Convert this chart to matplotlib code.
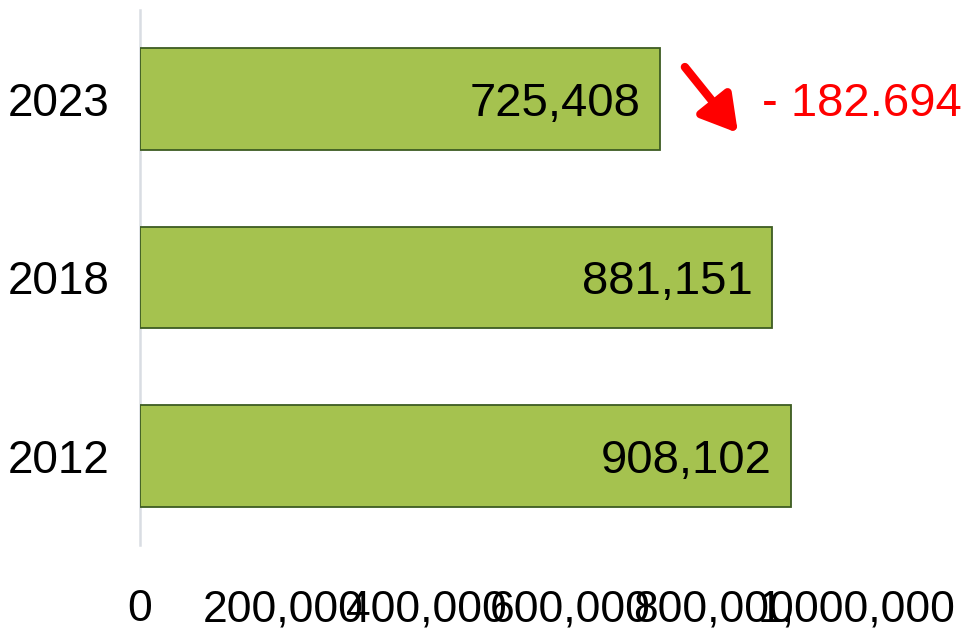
import matplotlib.pyplot as plt
from matplotlib.ticker import FuncFormatter

# values
years = ["2012", "2018", "2023"]
visitors = [908102, 881151, 725408]
change_label = "- 182.694"
x_ticks = [0, 200000, 400000, 600000, 800000, 1000000]

plt.rcParams['font.family'] = ['Liberation Sans', 'DejaVu Sans']

fig = plt.figure(figsize=(9.68, 6.31), dpi=100)
ax = fig.add_axes([0.1446, 0.1363, 0.7407, 0.8479])

pos = list(range(len(years)))
ax.barh(pos, visitors, height=0.57, color='#A5C24F',
        edgecolor='#3D5C22', linewidth=1.3, zorder=3)

# value labels inside the bar ends
for p, v in zip(pos, visitors):
    ax.annotate(f"{v:,}", xy=(v, p), xytext=(-14, 0), textcoords='offset points',
                ha='right', va='center_baseline', fontsize=34)

ax.set_xlim(0, 1000000)
ax.set_ylim(-0.5, 2.5)
ax.set_yticks(pos)
ax.set_yticklabels(years)
ax.set_xticks(x_ticks)
ax.xaxis.set_major_formatter(FuncFormatter(lambda x, _: f"{int(x):,}"))
ax.tick_params(axis='x', length=0, pad=32, labelsize=32)
ax.tick_params(axis='y', length=0, pad=22, labelsize=33)

for s in ['top', 'right', 'bottom']:
    ax.spines[s].set_visible(False)
ax.spines['left'].set_color('#D9DDE3')
ax.spines['left'].set_linewidth(1.8)

# red decrease arrow + label
ax.annotate("", xy=(834000, 1.81), xytext=(760000, 2.18),
            arrowprops=dict(arrowstyle='-|>,head_length=0.6,head_width=0.35',
                            color='red', lw=6, mutation_scale=36, shrinkA=0, shrinkB=0),
            annotation_clip=False)
ax.text(867000, 2.0, change_label, color='red', fontsize=34, ha='left',
        va='center_baseline', clip_on=False)

fig.savefig("out.png", dpi=100)
